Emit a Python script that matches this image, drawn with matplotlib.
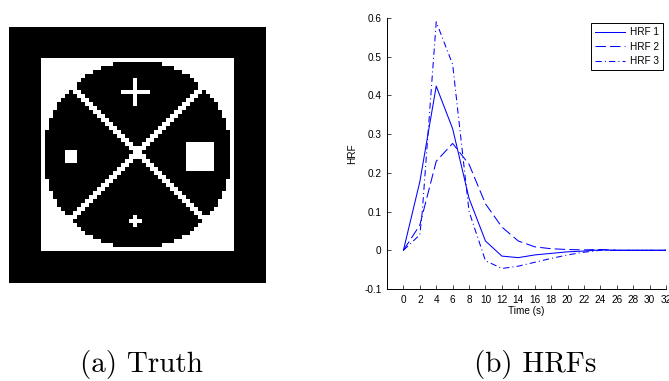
import matplotlib
matplotlib.use("agg")
import matplotlib.pyplot as plt
import numpy as np

# truth image: 64x64 binary phantom
image_size = 64
border = 8
disc_center = 32.0
disc_radius = 23.3
# (col, row, half arm length)
plus_signs = [(31, 16, 3), (31, 48, 1)]
# (first col, first row, side)
squares = [(14, 31, 3), (44, 29, 7)]
diag_down = [0, 1]      # col - row values that are white
diag_up = [62, 63]      # col + row values that are white

# HRF curves
hrf1_time = [0, 2, 4, 6, 8, 10, 12, 14, 16, 18, 20, 22, 24, 26, 28, 30, 32]
hrf1 = [0, 0.177, 0.424, 0.314, 0.134, 0.024, -0.015, -0.019, -0.012,
        -0.008, -0.004, -0.002, 0.001, 0, 0, 0, 0]
hrf2_time = [0, 2, 4, 6, 8, 10, 12, 14, 16, 18, 20, 22, 24, 26, 28, 30, 32]
hrf2 = [0, 0.065, 0.23, 0.276, 0.222, 0.12, 0.06, 0.024, 0.009,
        0.004, 0.002, 0.001, 0.002, 0, 0, 0, 0]
hrf3_time = [0, 2, 2.3, 4, 6, 8, 10, 12, 14, 16, 18, 20, 22, 24, 26, 28, 30, 32]
hrf3 = [0, 0.04, 0.1, 0.59, 0.48, 0.1, -0.027, -0.047, -0.041, -0.031,
        -0.021, -0.012, -0.005, 0, 0, 0, 0, 0]
series_labels = ["HRF 1", "HRF 2", "HRF 3"]

x_ticks = list(range(0, 33, 2))
y_ticks = [-0.1, 0, 0.1, 0.2, 0.3, 0.4, 0.5, 0.6]
y_tick_labels = ["-0.1", "0", "0.1", "0.2", "0.3", "0.4", "0.5", "0.6"]


def build_truth():
    rows, cols = np.mgrid[0:image_size, 0:image_size]
    img = np.zeros((image_size, image_size))
    inner = slice(border, image_size - border)
    img[inner, inner] = 1.0
    dist = np.hypot(cols + 0.5 - disc_center, rows + 0.5 - disc_center)
    inside = dist <= disc_radius
    img[inside] = 0.0
    for value in diag_down:
        img[inside & (cols - rows == value)] = 1.0
    for value in diag_up:
        img[inside & (cols + rows == value)] = 1.0
    for col, row, arm in plus_signs:
        img[row, col - arm:col + arm + 1] = 1.0
        img[row - arm:row + arm + 1, col] = 1.0
    for col, row, side in squares:
        img[row:row + side, col:col + side] = 1.0
    return img


plt.rcParams["font.family"] = ["Liberation Sans Narrow", "Liberation Sans", "DejaVu Sans"]
fig = plt.figure(figsize=(6.69, 3.81), dpi=100)

ax_img = fig.add_axes([8.3 / 669, 97.7 / 381, 258.4 / 669, 256.6 / 381])
ax_img.imshow(build_truth(), cmap="gray", vmin=0, vmax=1, interpolation="nearest")
ax_img.axis("off")

ax = fig.add_axes([387 / 669, 92 / 381, 279 / 669, 271 / 381])
blue = (0, 0, 1)
ax.plot(hrf1_time, hrf1, color=blue, lw=0.75, label=series_labels[0])
ax.plot(hrf2_time, hrf2, color=blue, lw=0.75, linestyle=(0, (10, 4)), label=series_labels[1])
ax.plot(hrf3_time, hrf3, color=blue, lw=0.75, linestyle=(0, (6, 3, 1, 3)), label=series_labels[2])
ax.set_xlim(-2, 32)
ax.set_ylim(-0.1, 0.6)
ax.set_xticks(x_ticks)
ax.set_yticks(y_ticks)
ax.set_yticklabels(y_tick_labels)
ax.tick_params(direction="in", length=3, width=0.5, labelsize=7.2, pad=4)
for side in ["top", "right"]:
    ax.spines[side].set_visible(False)
for side in ["left", "bottom"]:
    ax.spines[side].set_linewidth(0.7)
ax.set_xlabel("Time (s)", fontsize=7.2, labelpad=1)
ax.set_ylabel("HRF", fontsize=7.2, labelpad=5)

leg = ax.legend(loc="upper right", bbox_to_anchor=(663 / 669, 1 - 23 / 381),
                bbox_transform=fig.transFigure, borderaxespad=0, fontsize=7.2,
                handlelength=3.0, labelspacing=0.45, handletextpad=0.5,
                borderpad=0.4, fancybox=False, edgecolor="black", framealpha=1)
leg.get_frame().set_linewidth(0.7)

fig.text(141.7 / 669, 9 / 381, "(a) Truth", family="cmr10", fontsize=21,
         ha="center", va="baseline")
fig.text(535 / 669, 9 / 381, "(b) HRFs", family="cmr10", fontsize=21,
         ha="center", va="baseline")

fig.savefig("out.png", dpi=100)
